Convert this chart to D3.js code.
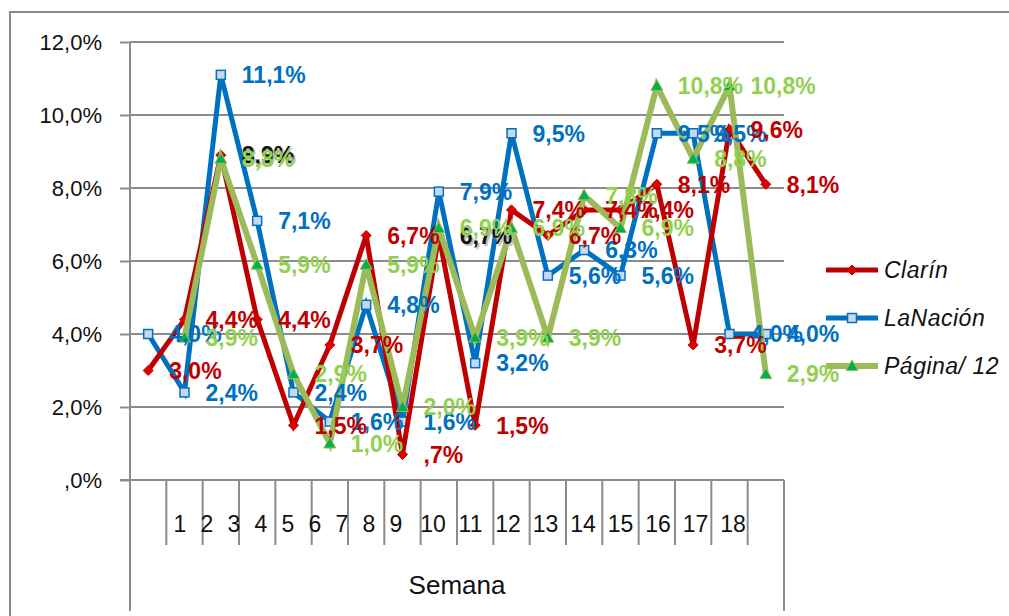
<!DOCTYPE html>
<html>
<head>
<meta charset="utf-8">
<script src="https://cdn.jsdelivr.net/npm/d3@7"></script>
<style>
  body { margin: 0; background: #fff; }
  text { font-family: 'Liberation Sans', Arial, sans-serif; }
</style>
</head>
<body>
<svg id="chart"></svg>
<script>
// data
const weeks = [1, 2, 3, 4, 5, 6, 7, 8, 9, 10, 11, 12, 13, 14, 15, 16, 17, 18]
const clarin = [3.0, 4.4, 8.9, 4.4, 1.5, 3.7, 6.7, 0.7, 6.7, 1.5, 7.4, 6.7, 7.4, 7.4, 8.1, 3.7, 9.6, 8.1]
const laNacion = [4.0, 2.4, 11.1, 7.1, 2.4, 1.6, 4.8, 1.6, 7.9, 3.2, 9.5, 5.6, 6.3, 5.6, 9.5, 9.5, 4.0, 4.0]
const pagina12 = [null, 3.9, 8.8, 5.9, 2.9, 1.0, 5.9, 2.0, 6.9, 3.9, 6.9, 3.9, 7.8, 6.9, 10.8, 8.8, 10.8, 2.9]
const yTicks = [0, 2, 4, 6, 8, 10, 12]
// weeks where the Clarín label shows up black
const darkLabels = [3, 9]

const W = 1009
const H = 616
const plot = { left: 130, right: 784, top: 42, bottom: 480 }
const grid = '#8c8c8c'

const series = [
  { name: 'LaNación', values: laNacion, line: '#0070C0', text: '#0070C0', width: 5, marker: 'square' },
  { name: 'Clarín', values: clarin, line: '#C00000', text: '#C00000', width: 5, marker: 'diamond' },
  { name: 'Página/ 12', values: pagina12, line: '#9BBB59', text: '#92D050', width: 6, marker: 'triangle' }
]
const legendOrder = [1, 0, 2]

const fmt = (v) => v.toFixed(1).replace('.', ',').replace(/^0/, '') + '%'

const svg = d3.select('#chart').attr('width', W).attr('height', H).attr('viewBox', [0, 0, W, H])

const x = d3.scaleBand().domain(weeks).range([plot.left, plot.right]).padding(0)
const y = d3.scaleLinear().domain([0, 12]).range([plot.bottom, plot.top])
const cx = (w) => x(w) + x.bandwidth() / 2
// tick labels drift against the category bands in the original
const xl = d3.scaleLinear().domain([1, 9, 10, 18]).range([180, 396, 433, 733])

// outer frame (top + left only visible)
svg.append('path').attr('d', `M10,${H}V12H${W}`).attr('fill', 'none').attr('stroke', grid).attr('stroke-width', 2)

// gridlines
svg.append('g')
  .selectAll('line')
  .data(yTicks.filter((d) => d > 0))
  .join('line')
  .attr('x1', plot.left)
  .attr('x2', plot.right)
  .attr('y1', (d) => y(d))
  .attr('y2', (d) => y(d))
  .attr('stroke', grid)
  .attr('stroke-width', 2)

// y axis
const yAxis = d3.axisLeft(y).tickValues(yTicks).tickSize(10).tickFormat(fmt)
const ya = svg.append('g').attr('transform', `translate(${plot.left},0)`).call(yAxis)
ya.select('.domain').remove()
ya.selectAll('.tick line').attr('stroke', grid).attr('stroke-width', 2)
ya.selectAll('.tick text')
  .attr('x', -28)
  .attr('font-size', 22)
  .attr('font-family', 'Liberation Sans, Arial, sans-serif')
  .attr('fill', '#111')
svg.append('line').attr('x1', plot.left).attr('x2', plot.left).attr('y1', plot.top).attr('y2', 611).attr('stroke', grid).attr('stroke-width', 2)
svg.append('line').attr('x1', plot.left - 10).attr('x2', plot.right).attr('y1', plot.bottom).attr('y2', plot.bottom).attr('stroke', grid).attr('stroke-width', 2)
svg.append('line').attr('x1', plot.right).attr('x2', plot.right).attr('y1', plot.bottom).attr('y2', 611).attr('stroke', grid).attr('stroke-width', 2)

// category separators
svg.append('g')
  .selectAll('line')
  .data(weeks.slice(1))
  .join('line')
  .attr('x1', (d) => x(d))
  .attr('x2', (d) => x(d))
  .attr('y1', plot.bottom)
  .attr('y2', 545)
  .attr('stroke', grid)
  .attr('stroke-width', 2)

svg.append('g')
  .selectAll('text')
  .data(weeks)
  .join('text')
  .attr('x', (d) => xl(d))
  .attr('y', 532)
  .attr('text-anchor', 'middle')
  .attr('font-size', 23)
  .attr('fill', '#111')
  .text((d) => d)

svg.append('text')
  .attr('x', (plot.left + plot.right) / 2)
  .attr('y', 594)
  .attr('text-anchor', 'middle')
  .attr('font-size', 26)
  .attr('fill', '#111')
  .text('Semana')

// markers
function drawMarker(g, kind) {
  if (kind === 'square') {
    g.append('rect').attr('x', -4.5).attr('y', -4.5).attr('width', 9).attr('height', 9)
      .attr('fill', '#C6D9F1').attr('stroke', '#0070C0').attr('stroke-width', 1.5)
  } else if (kind === 'diamond') {
    g.append('path').attr('d', 'M0,-5L5,0L0,5L-5,0Z').attr('fill', '#E00000').attr('stroke', '#C00000').attr('stroke-width', 1)
  } else {
    g.append('path').attr('d', 'M0,-6L6,4.5H-6Z').attr('fill', '#00B050').attr('stroke', '#9BBB59').attr('stroke-width', 1)
  }
}

const line = d3.line()
  .defined((d) => d != null)
  .x((d, i) => cx(weeks[i]))
  .y((d) => y(d))

const lines = svg.append('g')
series.forEach((s) => {
  lines.append('path')
    .datum(s.values)
    .attr('d', line)
    .attr('fill', 'none')
    .attr('stroke', s.line)
    .attr('stroke-width', s.width)
    .attr('stroke-linejoin', 'miter')
  lines.append('g')
    .selectAll('g')
    .data(s.values.map((v, i) => ({ v, w: weeks[i] })).filter((d) => d.v != null))
    .join('g')
    .attr('transform', (d) => `translate(${cx(d.w)},${y(d.v)})`)
    .each(function () { drawMarker(d3.select(this), s.marker) })
})

// data labels
const labels = svg.append('g').attr('font-size', 23).attr('font-weight', 'bold')
series.forEach((s) => {
  const pts = s.values.map((v, i) => ({ v, w: weeks[i] })).filter((d) => d.v != null)
  const dark = s.name === 'Clarín'
  labels.append('g')
    .selectAll('text')
    .data(pts)
    .join('text')
    .attr('x', (d) => cx(d.w) + 21)
    .attr('y', (d) => y(d.v))
    .attr('dy', '0.36em')
    .attr('fill', (d) => (dark && darkLabels.includes(d.w) ? '#111' : s.text))
    .style('text-shadow', (d) => (dark && darkLabels.includes(d.w) ? '2px 2px 1px #bbb' : null))
    .text((d) => fmt(d.v))
})

// legend
const legend = svg.append('g')
legendOrder.forEach((k, i) => {
  const s = series[k]
  const ly = 270 + i * 48
  legend.append('line').attr('x1', 826).attr('x2', 878).attr('y1', ly).attr('y2', ly)
    .attr('stroke', s.line).attr('stroke-width', s.width)
  const m = legend.append('g').attr('transform', `translate(852,${ly})`)
  drawMarker(m, s.marker)
  legend.append('text')
    .attr('x', 884)
    .attr('y', ly)
    .attr('dy', '0.36em')
    .attr('font-size', 23)
    .attr('font-style', 'italic')
    .attr('font-family', 'Noto Sans, sans-serif')
    .attr('letter-spacing', 0.5)
    .attr('fill', '#111')
    .text(s.name)
})
</script>
</body>
</html>
